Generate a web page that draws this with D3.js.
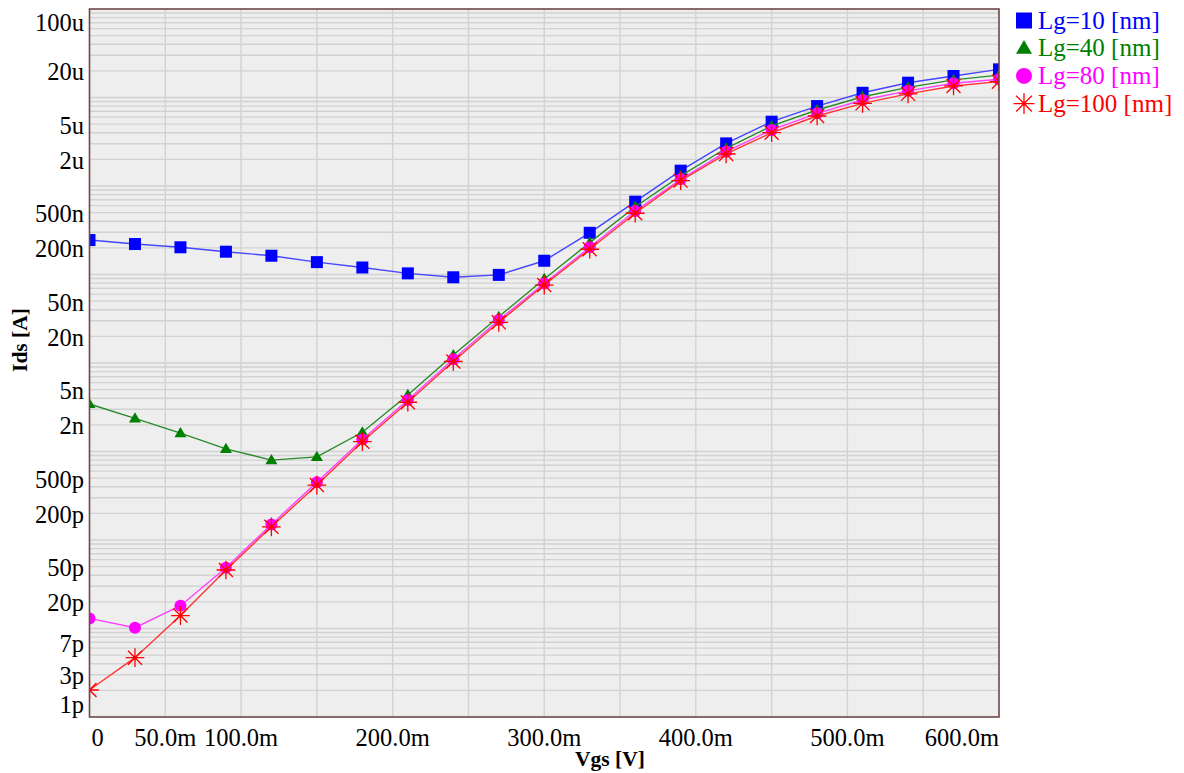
<!DOCTYPE html>
<html>
<head>
<meta charset="utf-8">
<script src="https://cdn.jsdelivr.net/npm/d3@7/dist/d3.min.js"></script>
<style>
  html, body { margin: 0; padding: 0; background: #ffffff; }
  svg { display: block; }
  text { font-family: "Liberation Serif", "Times New Roman", serif; }
</style>
</head>
<body>
<svg id="chart" width="1184" height="773"></svg>
<script>
// Gate voltage sweep points [V]
const vgs = [0, 0.03, 0.06, 0.09, 0.12, 0.15, 0.18, 0.21, 0.24, 0.27, 0.30,
             0.33, 0.36, 0.39, 0.42, 0.45, 0.48, 0.51, 0.54, 0.57, 0.60];

// Drain current [A] for each gate length
const idsLg10 = [2.45e-7, 2.21e-7, 2.03e-7, 1.81e-7, 1.63e-7, 1.38e-7, 1.20e-7, 1.03e-7, 9.3e-8, 9.9e-8, 1.43e-7,
                 2.96e-7, 6.65e-7, 1.49e-6, 3.03e-6, 5.33e-6, 8.0e-6, 1.13e-5, 1.47e-5, 1.75e-5, 2.08e-5];
const idsLg40 = [3.44e-9, 2.37e-9, 1.61e-9, 1.07e-9, 8.0e-10, 8.7e-10, 1.65e-9, 4.35e-9, 1.23e-8, 3.33e-8, 8.9e-8,
                 2.29e-7, 5.83e-7, 1.30e-6, 2.67e-6, 4.77e-6, 7.23e-6, 1.02e-5, 1.30e-5, 1.58e-5, 1.79e-5];
const idsLg80 = [1.30e-11, 1.02e-11, 1.81e-11, 4.86e-11, 1.50e-10, 4.49e-10, 1.37e-9, 3.82e-9, 1.10e-8, 3.06e-8, 7.91e-8,
                 2.03e-7, 5.22e-7, 1.19e-6, 2.44e-6, 4.30e-6, 6.62e-6, 9.38e-6, 1.19e-5, 1.45e-5, 1.61e-5];
const idsLg100 = [2.02e-12, 4.68e-12, 1.40e-11, 4.58e-11, 1.41e-10, 4.18e-10, 1.29e-9, 3.60e-9, 1.04e-8, 2.88e-8, 7.60e-8,
                  1.93e-7, 4.92e-7, 1.15e-6, 2.30e-6, 4.00e-6, 6.18e-6, 8.59e-6, 1.10e-5, 1.35e-5, 1.51e-5];

const seriesNames = ["Lg=10 [nm]", "Lg=40 [nm]", "Lg=80 [nm]", "Lg=100 [nm]"];

// Axis ticks and their labels
const xTickValues = [0, 0.05, 0.1, 0.2, 0.3, 0.4, 0.5, 0.6];
const xTickLabels = ["0", "50.0m", "100.0m", "200.0m", "300.0m", "400.0m", "500.0m", "600.0m"];
const xGridValues = [0.05, 0.1, 0.15, 0.2, 0.25, 0.3, 0.35, 0.4, 0.45, 0.5, 0.55];
const yTickValues = [1e-4, 2e-5, 5e-6, 2e-6, 5e-7, 2e-7, 5e-8, 2e-8, 5e-9, 2e-9, 5e-10, 2e-10, 5e-11, 2e-11, 7e-12, 3e-12, 1e-12];
const yTickLabels = ["100u", "20u", "5u", "2u", "500n", "200n", "50n", "20n", "5n", "2n", "500p", "200p", "50p", "20p", "7p", "3p", "1p"];

const series = [
  { name: seriesNames[0], values: idsLg10,  line: "#4646ff", color: "#0000ff", marker: "square" },
  { name: seriesNames[1], values: idsLg40,  line: "#2a8a2a", color: "#008000", marker: "triangle" },
  { name: seriesNames[2], values: idsLg80,  line: "#ff40ff", color: "#ff00ff", marker: "circle" },
  { name: seriesNames[3], values: idsLg100, line: "#ff3535", color: "#ff0000", marker: "star" }
];

const svg = d3.select("#chart");
const plot = { left: 89.5, top: 9, right: 999, bottom: 717 };

const x = d3.scaleLinear().domain([0, 0.6]).range([plot.left, plot.right]);
const y = d3.scaleLog().domain([1e-12, 1e-4]).range([plot.bottom, plot.top]);

// plot background
svg.append("rect")
  .attr("x", plot.left).attr("y", plot.top)
  .attr("width", plot.right - plot.left).attr("height", plot.bottom - plot.top)
  .attr("fill", "#eeeeee");

// log grid: 1..9 x 10^k
const yGrid = [];
for (let e = -12; e < -4; e++) {
  for (let m = 1; m <= 9; m++) {
    const v = m * Math.pow(10, e);
    if (v > 1e-12) yGrid.push(v);
  }
}
const grid = svg.append("g").attr("stroke", "#d2d2d2").attr("stroke-width", 1.4);
grid.selectAll("line.h").data(yGrid).join("line")
  .attr("x1", plot.left).attr("x2", plot.right)
  .attr("y1", d => y(d)).attr("y2", d => y(d));
grid.selectAll("line.v").data(xGridValues).join("line")
  .attr("x1", d => x(d)).attr("x2", d => x(d))
  .attr("y1", plot.top).attr("y2", plot.bottom);

// clip for the data
svg.append("clipPath").attr("id", "plotClip")
  .append("rect")
  .attr("x", plot.left).attr("y", plot.top)
  .attr("width", plot.right - plot.left).attr("height", plot.bottom - plot.top);

function drawMarker(g, type, color, s) {
  if (type === "square") {
    g.append("rect").attr("x", -s * 0.5).attr("y", -s * 0.5).attr("width", s).attr("height", s)
      .attr("fill", color);
  } else if (type === "triangle") {
    const h = s * 0.85;
    g.append("path")
      .attr("d", `M0,${-h * 0.6}L${s * 0.5},${h * 0.4}L${-s * 0.5},${h * 0.4}Z`)
      .attr("fill", color);
  } else if (type === "circle") {
    g.append("circle").attr("r", s * 0.5).attr("fill", color);
  } else if (type === "star") {
    const r = s * 0.55, d = r * 0.75;
    g.append("path")
      .attr("d", `M${-r},0L${r},0M0,${-r}L0,${r}M${-d},${-d}L${d},${d}M${-d},${d}L${d},${-d}`)
      .attr("stroke", color).attr("stroke-width", 1.3).attr("fill", "none");
    g.append("circle").attr("r", 1.8).attr("fill", color);
  }
}

const markerSize = { square: 12, triangle: 12, circle: 12, star: 17 };

const dataLayer = svg.append("g").attr("clip-path", "url(#plotClip)");
const lineGen = d3.line().x((d, i) => x(vgs[i])).y(d => y(d));

series.forEach(s => {
  const g = dataLayer.append("g");
  g.append("path").datum(s.values)
    .attr("d", lineGen)
    .attr("fill", "none")
    .attr("stroke", s.line)
    .attr("stroke-width", 1.4);
  g.selectAll("g.m").data(s.values).join("g")
    .attr("transform", (d, i) => `translate(${x(vgs[i])},${y(d)})`)
    .each(function () { drawMarker(d3.select(this), s.marker, s.color, markerSize[s.marker]); });
});

// plot frame
svg.append("rect")
  .attr("x", plot.left).attr("y", plot.top)
  .attr("width", plot.right - plot.left).attr("height", plot.bottom - plot.top)
  .attr("fill", "none").attr("stroke", "#6e4646").attr("stroke-width", 1.6);

// y tick labels, kept inside the frame height
const yLab = svg.append("g").attr("font-size", 24.5).attr("fill", "#000").attr("text-anchor", "end");
yTickValues.forEach((v, i) => {
  const cy = Math.max(plot.top + 13.5, Math.min(plot.bottom - 12, y(v) + 1.5));
  yLab.append("text").attr("x", 84).attr("y", cy).attr("dy", "0.33em").text(yTickLabels[i]);
});

// x tick labels, kept inside the frame width
const xLab = svg.append("g").attr("font-size", 24.5).attr("fill", "#000");
xTickValues.forEach((v, i) => {
  const t = xLab.append("text").attr("y", 746).text(xTickLabels[i]);
  const w = t.node().getComputedTextLength();
  let cx = x(v) - w / 2;
  cx = Math.max(plot.left + 2, Math.min(plot.right - w, cx));
  t.attr("x", cx);
});

// axis titles
svg.append("text").attr("x", 610).attr("y", 766).attr("text-anchor", "middle")
  .attr("font-size", 21.5).attr("font-weight", "bold").text("Vgs [V]");
svg.append("text").attr("transform", "translate(27,340) rotate(-90)").attr("text-anchor", "middle")
  .attr("font-size", 21.5).attr("font-weight", "bold").text("Ids [A]");

// legend
const legend = svg.append("g");
series.forEach((s, i) => {
  const ly = 20.5 + i * 27.7;
  const mg = legend.append("g").attr("transform", `translate(1024,${ly})`);
  drawMarker(mg, s.marker, s.color, s.marker === "star" ? 19 : 16);
  legend.append("text").attr("x", 1038).attr("y", ly).attr("dy", "0.33em")
    .attr("font-size", 25).attr("fill", s.color).text(s.name);
});
</script>
</body>
</html>
